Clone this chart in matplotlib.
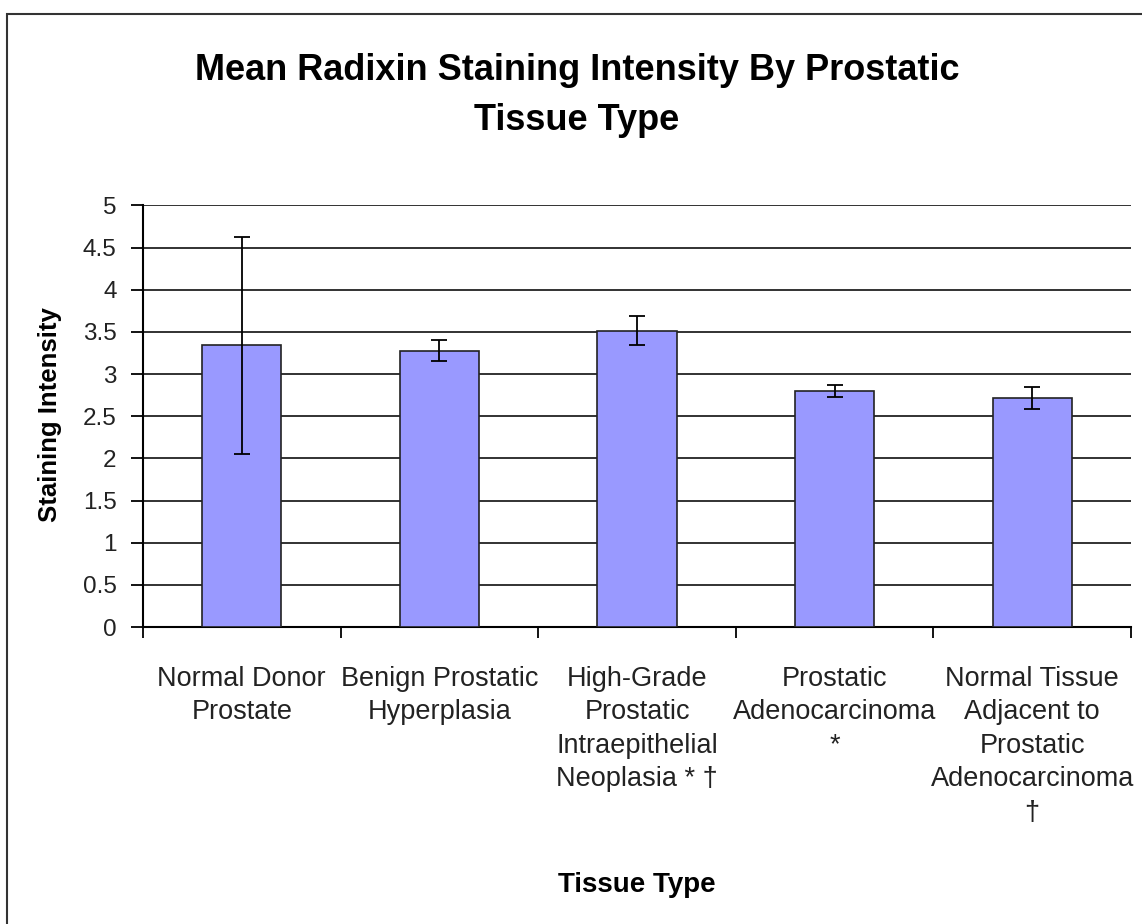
import numpy as np
import matplotlib.pyplot as plt
from matplotlib.patches import Rectangle

# data
categories = ['Normal Donor\nProstate', 'Benign Prostatic\nHyperplasia',
              'High-Grade\nProstatic\nIntraepithelial\nNeoplasia * \u2020',
              'Prostatic\nAdenocarcinoma\n*',
              'Normal Tissue\nAdjacent to\nProstatic\nAdenocarcinoma\n\u2020']
means = [3.34, 3.28, 3.515, 2.80, 2.72]
errors = [1.29, 0.125, 0.175, 0.07, 0.13]
yticks = np.arange(0, 5.01, 0.5)
ytick_labels = ['0', '0.5', '1', '1.5', '2', '2.5', '3', '3.5', '4', '4.5', '5']

plt.rcParams['font.family'] = ['Liberation Sans', 'DejaVu Sans']

W, H = 1142, 924
fig = plt.figure(figsize=(W / 100, H / 100), dpi=100)
ax = fig.add_axes([0.1252, 0.3214, 0.8652, 0.4562])

# border around the whole chart
fig.patches.append(Rectangle((7 / W, -0.05), 1.1, 1 - 13.5 / H + 0.05,
                             transform=fig.transFigure, fill=False,
                             edgecolor='#333333', linewidth=1.5))

x = np.arange(len(categories))
ax.bar(x, means, width=0.4, color='#9999FF', edgecolor='#222222', linewidth=1.2, zorder=3)
ax.errorbar(x, means, yerr=errors, fmt='none', ecolor='black', elinewidth=1.3,
            capsize=5.5, capthick=1.3, zorder=4)

ax.set_xlim(-0.5, len(categories) - 0.5)
ax.set_ylim(0, 5)
ax.set_yticks(yticks)
ax.set_yticklabels(ytick_labels, fontsize=17.5, color='#222222')
ax.yaxis.grid(True, color='#222222', linewidth=1.3, zorder=0)
ax.set_axisbelow(True)

# category ticks at boundaries, labels centered
ax.set_xticks(np.arange(-0.5, len(categories)), minor=False)
ax.set_xticklabels([])
ax.set_xticks(x, minor=True)
ax.set_xticklabels(categories, minor=True, fontsize=19.5, linespacing=1.37, color='#222222')
ax.tick_params(axis='x', which='minor', length=0, pad=28)
ax.tick_params(axis='x', which='major', length=8, width=1.3, direction='out')
ax.tick_params(axis='y', length=9, width=1.3, direction='out', pad=10)

for s in ['top', 'right']:
    ax.spines[s].set_visible(False)
ax.spines['left'].set_linewidth(1.5)
ax.spines['bottom'].set_linewidth(1.5)

fig.text(50 / W, 1 - 415 / H, 'Staining Intensity', rotation=90, ha='center', va='center',
         fontsize=18.5, fontweight='bold')
fig.text(637 / W, 1 - 885 / H, 'Tissue Type', ha='center', va='center',
         fontsize=20, fontweight='bold')

fig.text(577 / W, 0.943, 'Mean Radixin Staining Intensity By Prostatic\nTissue Type',
         ha='center', va='top', fontsize=26, fontweight='bold', linespacing=1.58)

fig.savefig('out.png', dpi=100)
